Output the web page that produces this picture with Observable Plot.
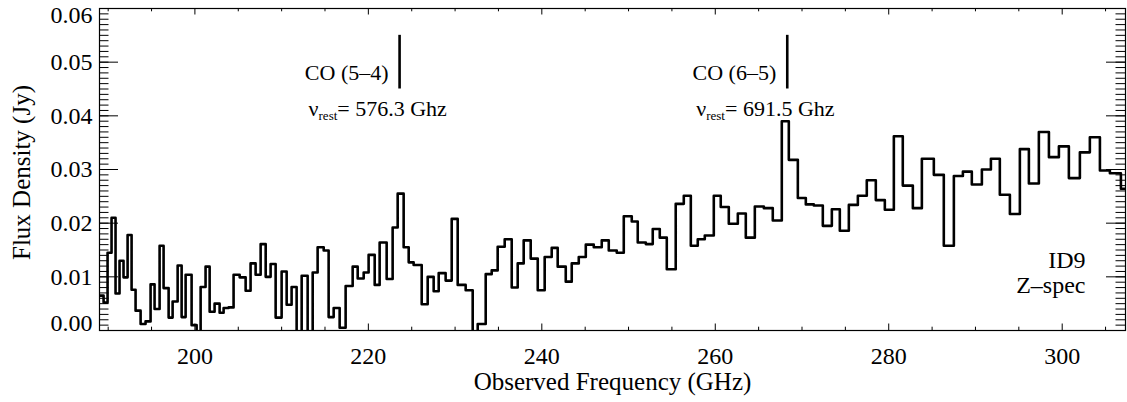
<!DOCTYPE html>
<html><head><meta charset="utf-8">
<script src="https://cdn.jsdelivr.net/npm/d3@7"></script>
<script src="https://cdn.jsdelivr.net/npm/@observablehq/plot@0.6"></script>
<style>body{margin:0;background:#fff;}</style>
</head><body><div id="chart"></div>
<script>
// Spectrum bins (left edges, GHz; last value closes the final bin) and flux values (Jy)
const binEdgesGHz = [
189.01,189.47,189.93,190.39,190.85,191.31,191.77,192.24,192.70,193.16,
193.74,194.31,194.89,195.35,195.93,196.39,196.97,197.43,198.01,198.47,
198.93,199.62,200.20,200.66,201.23,201.70,202.27,202.85,203.31,203.89,
204.46,205.16,205.85,206.42,207.00,207.58,208.16,208.73,209.31,210.00,
210.58,211.15,211.73,212.31,213.00,213.58,214.15,214.85,215.42,216.00,
216.69,217.38,218.19,218.77,219.46,220.03,220.73,221.30,222.11,222.80,
223.38,224.07,224.65,225.22,226.15,226.84,227.53,228.11,228.91,229.61,
230.30,231.22,232.03,232.61,233.53,234.22,234.91,235.72,236.53,237.22,
237.91,238.72,239.53,240.33,241.14,241.83,242.76,243.45,244.26,245.07,
245.99,246.91,247.72,248.64,249.45,250.37,251.06,251.99,252.79,253.60,
254.41,255.44,256.37,257.18,257.98,258.79,259.83,260.63,261.56,262.60,
263.52,264.56,265.60,266.63,267.67,268.48,269.52,270.44,271.36,272.40,
273.44,274.36,275.40,276.44,277.47,278.51,279.55,280.59,281.62,282.78,
283.82,285.20,286.35,287.51,288.55,289.58,290.74,291.78,292.81,293.97,
295.12,296.16,297.31,298.47,299.62,300.77,302.04,303.19,304.35,305.50,
306.77,307.35];
const fluxJy = [
0.0065,0.0052,0.0145,0.0210,0.0069,0.0130,0.0099,0.0178,0.0076,0.0037,
0.0012,0.0017,0.0086,0.0040,0.0158,0.0079,0.0024,0.0054,0.0121,0.0025,
0.0104,0.0010,-0.0030,0.0081,0.0119,0.0035,0.0050,0.0033,0.0042,0.0043,
0.0104,0.0099,0.0074,0.0125,0.0104,0.0161,0.0100,0.0124,0.0024,0.0110,
0.0048,0.0081,-0.0040,0.0102,-0.0040,0.0108,0.0155,0.0149,0.0025,0.0042,
0.0005,0.0083,0.0119,0.0097,0.0108,0.0141,0.0085,0.0164,0.0096,0.0192,
0.0255,0.0155,0.0127,0.0122,0.0049,0.0100,0.0073,0.0107,0.0093,0.0208,
0.0085,0.0075,-0.0040,0.0012,0.0105,0.0112,0.0156,0.0170,0.0080,0.0125,
0.0168,0.0134,0.0075,0.0137,0.0154,0.0119,0.0091,0.0125,0.0137,0.0160,
0.0155,0.0168,0.0149,0.0145,0.0213,0.0203,0.0164,0.0161,0.0189,0.0173,
0.0114,0.0236,0.0251,0.0158,0.0170,0.0177,0.0251,0.0230,0.0199,0.0218,
0.0173,0.0231,0.0228,0.0205,0.0390,0.0318,0.0247,0.0235,0.0233,0.0195,
0.0226,0.0186,0.0234,0.0251,0.0280,0.0243,0.0225,0.0362,0.0270,0.0228,
0.0320,0.0290,0.0158,0.0288,0.0296,0.0272,0.0300,0.0320,0.0253,0.0217,
0.0338,0.0274,0.0370,0.0323,0.0343,0.0284,0.0332,0.0360,0.0298,0.0293,
0.0264];

const xMajorTicks = [200, 220, 240, 260, 280, 300];
const xMinorTicks = [190, 195, 205, 210, 215, 225, 230, 235, 245, 250, 255, 265, 270, 275, 285, 290, 295, 305];
const yMajorTicks = [0, 0.01, 0.02, 0.03, 0.04, 0.05, 0.06];
const yTickLabels = ["0.00", "0.01", "0.02", "0.03", "0.04", "0.05", "0.06"];
const yMinorTicks = d3.range(0, 61).map(k => k / 1000);

const lineNames = ["CO (5–4)", "CO (6–5)"];
const lineRestGHz = ["576.3", "691.5"];
const lineObsGHz = [223.6, 268.3];
const sourceLabels = ["ID9", "Z–spec"];

const xDomain = [189.0, 307.3];
const yDomain = [0, 0.06];

const spectrum = fluxJy.map((f, i) => ({x: binEdgesGHz[i], y: f}));
spectrum.push({x: binEdgesGHz[binEdgesGHz.length - 1], y: fluxJy[fluxJy.length - 1]});
const lines = lineNames.map((n, i) => ({name: n, rest: lineRestGHz[i], obs: lineObsGHz[i]}));

const W = 1127, H = 402, ML = 99, MR = 2, MT = 8, MB = 72;
const FW = W - ML - MR, FH = H - MT - MB;
const font = "'Liberation Serif', 'Times New Roman', serif";

const plot = Plot.plot({
  width: W, height: H,
  marginLeft: ML, marginRight: MR, marginTop: MT, marginBottom: MB,
  x: {domain: xDomain, axis: null},
  y: {domain: yDomain, axis: null},
  style: {fontFamily: font, background: "#fff", color: "#000"},
  marks: [
    // spectrum
    Plot.line(spectrum, {x: "x", y: "y", curve: "step-after", stroke: "#000", strokeWidth: 2.6, clip: true}),
    // inward ticks
    Plot.ruleY(yMajorTicks, {y: d => d, insetRight: FW - 19, stroke: "#000", strokeWidth: 1}),
    Plot.ruleY(yMinorTicks, {y: d => d, insetRight: FW - 9.5, stroke: "#000", strokeWidth: 1}),
    Plot.ruleY(yMajorTicks, {y: d => d, insetLeft: FW - 19, stroke: "#000", strokeWidth: 1}),
    Plot.ruleY(yMinorTicks, {y: d => d, insetLeft: FW - 9.5, stroke: "#000", strokeWidth: 1}),
    Plot.ruleX(xMajorTicks, {x: d => d, insetTop: FH - 6.5, stroke: "#000", strokeWidth: 1}),
    Plot.ruleX(xMinorTicks, {x: d => d, insetTop: FH - 3.3, stroke: "#000", strokeWidth: 1}),
    Plot.ruleX(xMajorTicks, {x: d => d, insetBottom: FH - 6.5, stroke: "#000", strokeWidth: 1}),
    Plot.ruleX(xMinorTicks, {x: d => d, insetBottom: FH - 3.3, stroke: "#000", strokeWidth: 1}),
    Plot.frame({stroke: "#000", strokeWidth: 1.2}),
    // y tick labels
    Plot.text(yMajorTicks.slice(1, -1), {y: d => d, frameAnchor: "left", textAnchor: "end", lineAnchor: "middle", dx: -7,
      text: (d, i) => yTickLabels[i + 1], fontSize: 24, fill: "#000"}),
    Plot.text([yMajorTicks[0]], {y: d => d, frameAnchor: "left", textAnchor: "end", lineAnchor: "middle", dx: -7, dy: -7.5,
      text: () => yTickLabels[0], fontSize: 24, fill: "#000"}),
    Plot.text([yMajorTicks[6]], {y: d => d, frameAnchor: "left", textAnchor: "end", lineAnchor: "middle", dx: -7, dy: 7,
      text: () => yTickLabels[6], fontSize: 24, fill: "#000"}),
    // x tick labels
    Plot.text(xMajorTicks, {x: d => d, frameAnchor: "bottom", lineAnchor: "top", dy: 16, text: d => String(d), fontSize: 24, fill: "#000"}),
    // axis titles
    Plot.text(["Observed Frequency (GHz)"], {frameAnchor: "bottom", textAnchor: "middle", lineAnchor: "middle", dy: 51.5, fontSize: 25, fill: "#000"}),
    Plot.text(["Flux Density (Jy)"], {frameAnchor: "left", textAnchor: "middle", rotate: -90, lineAnchor: "middle", dx: -78, dy: 3, fontSize: 25, fill: "#000"}),
    // line markers
    Plot.ruleX(lines, {x: "obs", y1: () => 0.045, y2: () => 0.055, stroke: "#000", strokeWidth: 2.6}),
    Plot.text(lines, {x: "obs", y: () => 0.0479, text: "name", textAnchor: "end", lineAnchor: "middle", dx: -11, fontSize: 22, fill: "#000"}),
    Plot.text(lines, {x: "obs", y: () => 0.0413, text: d => "νrest= " + d.rest + " Ghz", textAnchor: "start", lineAnchor: "middle", dx: -91, fontSize: 22, fill: "#000", className: "nu-label"}),
    // source labels
    Plot.text([sourceLabels[0]], {frameAnchor: "bottom-right", textAnchor: "end", lineAnchor: "middle", dx: -40, dy: -70.5, fontSize: 24, fill: "#000"}),
    Plot.text([sourceLabels[1]], {frameAnchor: "bottom-right", textAnchor: "end", lineAnchor: "middle", dx: -40, dy: -45.5, fontSize: 24, fill: "#000"})
  ]
});

d3.select(plot).selectAll("g.nu-label text").each(function(d, i) {
  const t = d3.select(this);
  t.text(null);
  t.append("tspan").text("ν");
  t.append("tspan").attr("font-size", 13).attr("dy", 4).text("rest");
  t.append("tspan").attr("dy", -4).text("= " + lines[i].rest + " Ghz");
});

document.getElementById("chart").appendChild(plot);
</script>
</body></html>
